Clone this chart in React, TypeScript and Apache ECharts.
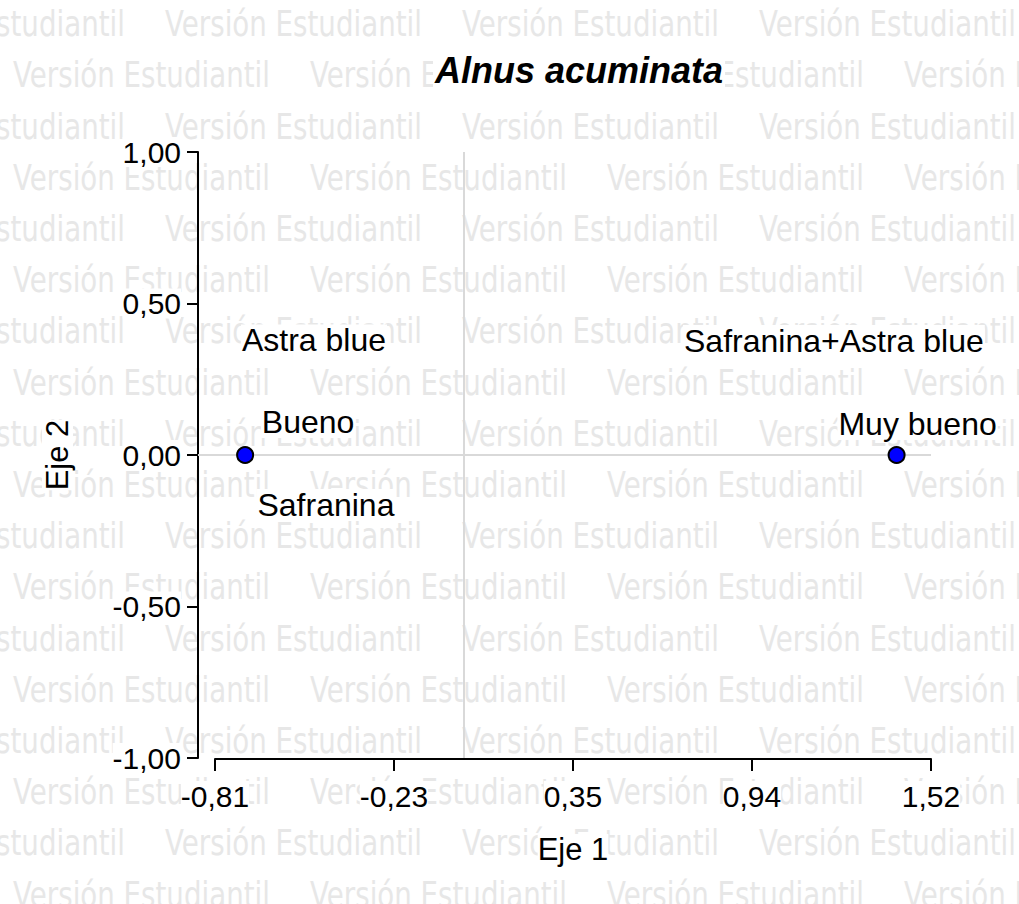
import React, { useEffect, useRef } from "react";
import * as echarts from "echarts";

// ---- Data ----
const titleText = "Alnus acuminata";
const xAxisName = "Eje 1";
const yAxisName = "Eje 2";
const xMin = -0.81;
const xMax = 1.52;
const xTickValues = [-0.81, -0.2275, 0.355, 0.9375, 1.52];
const xTickLabels = ["-0,81", "-0,23", "0,35", "0,94", "1,52"];
const yMin = -1;
const yMax = 1;
const yStep = 0.5;
const levelNames = ["Bueno", "Muy bueno"];
const levelX = [-0.712, 1.408];
const levelY = [0, 0];
const treatmentNames = ["Astra blue", "Safranina", "Safranina+Astra blue"];
const treatmentX = [-0.488, -0.449, 1.204];
const treatmentY = [0.378, -0.165, 0.376];
const watermarkText = "Versión Estudiantil";

const FONT = "'Liberation Sans', Arial, sans-serif";
const Y_OFFSET = 17;

const levelLabelOffsets: Record<string, number[]> = {
  Bueno: [63, -33],
  "Muy bueno": [21, -31],
};

function buildWatermark() {
  const els: any[] = [];
  for (let r = 0; r < 18; r++) {
    const y = 24 + 51.2 * r;
    const startX = r % 2 === 0 ? -132 : 13;
    for (let x = startX; x < 1019; x += 297) {
      els.push({
        type: "text",
        x,
        y,
        z: -10,
        silent: true,
        scaleX: 0.78,
        style: {
          text: watermarkText,
          fontSize: 35.5,
          fontFamily: "'DejaVu Sans', sans-serif",
          fill: "#e7e7e7",
          align: "left",
          verticalAlign: "middle",
        },
      });
    }
  }
  return els;
}

export default function App() {
  const ref = useRef<HTMLDivElement>(null);
  useEffect(() => {
    if (!ref.current) return;
    const chart = echarts.init(ref.current, undefined, { renderer: "svg" });
    const watermark = buildWatermark();
    const labelBase = {
      show: true,
      position: "inside",
      formatter: "{b}",
      fontSize: 32,
      color: "#000000",
      opacity: 1,
      textBorderWidth: 0,
      textBorderColor: "transparent",
      fontFamily: FONT,
      backgroundColor: "#fff",
      padding: [0, 1],
    };
    const option: any = {
      animation: false,
      backgroundColor: "#ffffff",
      title: {
        text: titleText,
        left: 433,
        top: 52,
        padding: [0, 2],
        backgroundColor: "#ffffff",
        textStyle: {
          fontSize: 36,
          fontWeight: "bold",
          fontStyle: "italic",
          color: "#000",
          fontFamily: FONT,
        },
      },
      graphic: watermark,
      grid: {
        left: 215,
        right: 88,
        top: 152,
        bottom: 146,
        containLabel: false,
        outerBoundsMode: "none",
      },
      xAxis: {
        type: "value",
        min: xMin,
        max: xMax,
        position: "bottom",
        offset: 1,
        name: xAxisName,
        nameLocation: "middle",
        nameGap: 75,
        nameTextStyle: {
          fontSize: 31,
          color: "#000",
          fontFamily: FONT,
          backgroundColor: "#fff",
        },
        axisLine: { show: true, onZero: false, lineStyle: { color: "#000", width: 2 } },
        axisTick: {
          show: true,
          customValues: xTickValues,
          length: 12,
          lineStyle: { color: "#000", width: 2 },
        },
        axisLabel: {
          customValues: xTickValues,
          showMinLabel: true,
          showMaxLabel: true,
          margin: 22,
          fontSize: 30,
          color: "#000",
          fontFamily: FONT,
          backgroundColor: "#fff",
          formatter: (v: number) => {
            const i = xTickValues.findIndex((t) => Math.abs(t - v) < 1e-6);
            return i >= 0 ? xTickLabels[i] : "";
          },
        },
        splitLine: { show: false },
      },
      yAxis: {
        type: "value",
        min: yMin,
        max: yMax,
        interval: yStep,
        position: "left",
        offset: Y_OFFSET,
        name: yAxisName,
        nameLocation: "middle",
        nameGap: 125,
        nameRotate: 90,
        nameTextStyle: {
          fontSize: 31,
          color: "#000",
          fontFamily: FONT,
          backgroundColor: "#fff",
        },
        axisLine: { show: true, onZero: false, lineStyle: { color: "#000", width: 2 } },
        axisTick: { show: true, length: 11, lineStyle: { color: "#000", width: 2 } },
        axisLabel: {
          margin: 17,
          fontSize: 30,
          color: "#000",
          fontFamily: FONT,
          backgroundColor: "#fff",
          formatter: (v: number) => v.toFixed(2).replace(".", ","),
        },
        splitLine: { show: false },
      },
      series: [
        {
          name: "levels",
          type: "scatter",
          symbol: "circle",
          symbolSize: 16,
          z: 5,
          itemStyle: { color: "#0000ff", borderColor: "#000", borderWidth: 2, opacity: 1 },
          label: labelBase,
          emphasis: { disabled: true },
          data: levelNames.map((n, i) => ({
            name: n,
            value: [levelX[i], levelY[i]],
            label: { offset: levelLabelOffsets[n] },
          })),
          markLine: {
            silent: true,
            symbol: ["none", "none"],
            label: { show: false },
            emphasis: { disabled: true },
            lineStyle: { color: "#d9d9d9", width: 2, type: "solid" },
            data: [{ xAxis: 0 }, { yAxis: 0 }],
          },
        },
        {
          name: "treatments",
          type: "scatter",
          symbol: "circle",
          symbolSize: 2,
          z: 4,
          itemStyle: { color: "#ffffff", borderWidth: 0 },
          label: labelBase,
          emphasis: { disabled: true },
          data: treatmentNames.map((n, i) => ({ name: n, value: [treatmentX[i], treatmentY[i]] })),
        },
      ],
    };
    chart.setOption(option);
    const p = chart.convertToPixel({ gridIndex: 0 } as any, [xMin, 0]) as number[];
    if (p) {
      chart.setOption({
        graphic: [
          ...watermark,
          {
            type: "line",
            z: 1,
            silent: true,
            shape: { x1: p[0] - Y_OFFSET, y1: p[1], x2: p[0], y2: p[1] },
            style: { stroke: "#d9d9d9", lineWidth: 2 },
          },
        ],
      });
    }
    return () => chart.dispose();
  }, []);
  return (
    <div
      ref={ref}
      style={{ position: "fixed", left: 0, top: 0, width: 1019, height: 904, background: "#fff" }}
    />
  );
}
